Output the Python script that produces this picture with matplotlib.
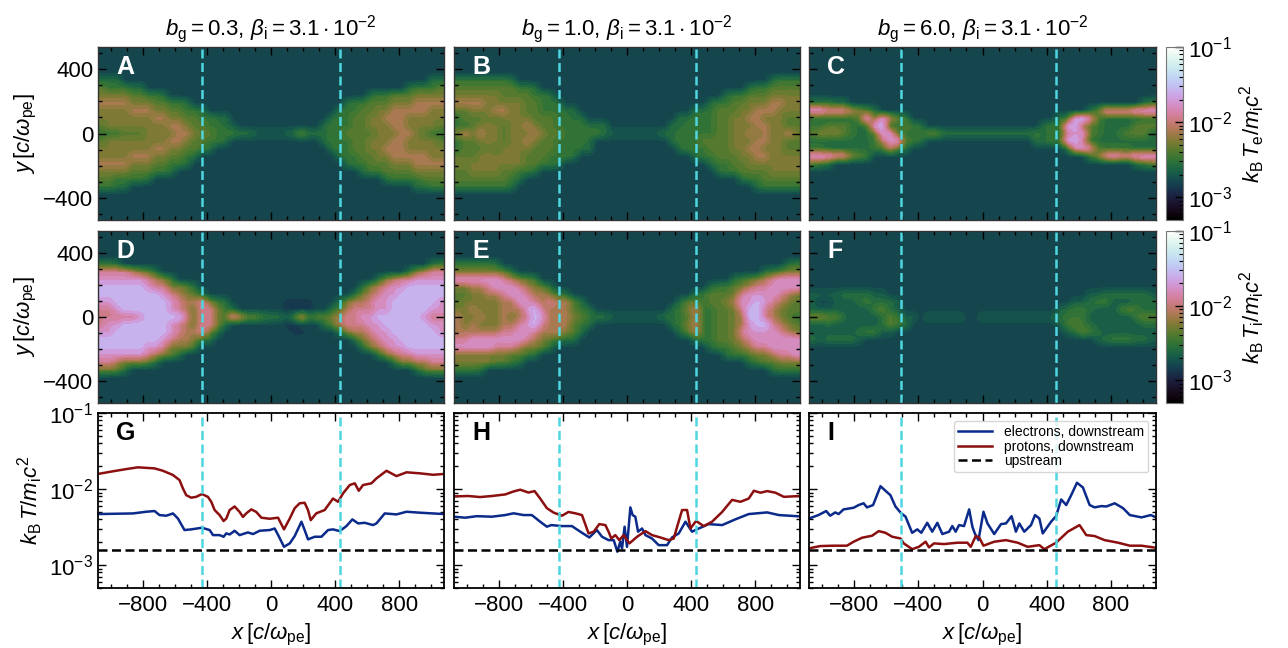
import numpy as np
import matplotlib
matplotlib.use('Agg')
import matplotlib.pyplot as plt
from matplotlib.colors import LogNorm
from matplotlib.cm import ScalarMappable
from matplotlib.ticker import MultipleLocator, LogLocator, NullFormatter

plt.rcParams['font.family'] = ['Liberation Sans', 'DejaVu Sans']
plt.rcParams['mathtext.fontset'] = 'custom'
plt.rcParams['mathtext.rm'] = 'Liberation Sans'
plt.rcParams['mathtext.it'] = 'Liberation Sans:italic'
plt.rcParams['mathtext.bf'] = 'Liberation Sans:bold'

# temperature classes used in the coarse maps below, in units of 1e-3
CODES = 'a0123456789'
CODE_T = [1.4, 1.6, 2.1, 2.7, 3.3, 4.2, 5.3, 7.6, 11.5, 17.0, 26.0]
# isotherms between which the maps are filled
BANDS = [1.3, 1.5, 1.72, 2.0, 2.4, 2.9, 3.4, 3.9, 4.5, 5.2, 6.0, 7.0, 8.3, 10, 12, 14.5, 18, 23, 30]

E = "00000 00000 00000 00000 00000 00000 00000 00000 00000"

MAP_A = [E, E, E, E,
    "22200 00000 00000 00000 00000 00000 00000 00000 00022",
    "43332 20000 00000 00000 00000 00000 00000 00000 23334",
    "55554 43320 00000 00000 00000 00000 00000 23344 45555",
    "66665 55443 32000 00000 00000 00000 00233 44455 56666",
    "55556 66554 43320 00000 00000 00000 02334 45566 66655",
    "55555 55665 54433 22000 00000 00000 23344 55666 55555",
    "45555 55556 65443 32100 00000 00002 33344 55566 55554",
    "33344 45555 66544 33322 11111 24222 33444 45556 65433",
    "45555 55556 65443 32000 00000 00002 33344 55566 55554",
    "55555 55665 54432 00000 00000 00000 23344 55666 55555",
    "55556 66554 43200 00000 00000 00000 02334 45566 66655",
    "66665 55443 32000 00000 00000 00000 00233 44455 56666",
    "55554 44332 00000 00000 00000 00000 00002 33444 45555",
    "44333 32000 00000 00000 00000 00000 00000 00233 33444",
    "33220 00000 00000 00000 00000 00000 00000 00000 02233",
    E, E, E, E]

MAP_B = [E, E, E, E,
    "33333 33200 00000 00000 00000 00000 00000 00000 02333",
    "44444 44433 20000 00000 00000 00000 00000 00023 34444",
    "55555 54444 33200 00000 00000 00000 00000 23344 45555",
    "66665 55554 43320 00000 00000 00000 00023 34455 56655",
    "44555 66554 43332 20000 00000 00000 02234 44556 66555",
    "34445 45555 44433 22000 00000 00002 23334 45566 55544",
    "33455 54556 54433 33222 00000 00022 33334 45556 65544",
    "56565 54555 65443 33332 11111 11223 33334 45565 65565",
    "34455 54556 54433 33200 00000 00023 33444 45556 65544",
    "34445 45555 44433 32200 00000 00002 33344 45566 55544",
    "44455 55554 44333 20000 00000 00000 02334 44556 65555",
    "55555 55554 43320 00000 00000 00000 00023 34455 55555",
    "44555 54433 20000 00000 00000 00000 00002 33444 45555",
    "44444 44320 00000 00000 00000 00000 00000 00233 44444",
    "33333 33200 00000 00000 00000 00000 00000 00002 33333",
    E, E, E, E]

MAP_C = [E, E, E, E, E, E, E,
    "33322 00000 00000 00000 00000 00000 00000 00000 00023",
    "88777 65420 00000 00000 00000 00000 00000 02477 77888",
    "22222 34858 64300 00000 00000 00000 00238 97422 22233",
    "33444 32389 33432 00000 00000 00000 23389 64322 22444",
    "45554 32248 84323 44222 22222 22223 23278 84322 34442",
    "22222 22236 88432 00000 00000 00002 23389 73222 22222",
    "33222 22233 64200 00000 00000 00000 00027 87433 33222",
    "88877 54300 00000 00000 00000 00000 00000 03578 77888",
    "43200 00000 00000 00000 00000 00000 00000 00000 00234",
    E, E, E, E, E, E, E]

MAP_D = [E, E, E, E,
    "33200 00000 00000 00000 00000 00000 00000 00000 00023",
    "77776 54200 00000 00000 00000 00000 00000 00000 25677",
    "88888 87653 00000 00000 00000 00000 00000 02567 78888",
    "99999 98775 54200 00000 00000 00000 00002 56788 99999",
    "99999 99987 65420 00000 00000 00000 00025 67889 99999",
    "88999 99998 76675 32000 0000a aaa00 02566 78899 99998",
    "77899 99998 76577 53200 0000a aaa00 24677 78899 99988",
    "77777 89999 97577 54764 43221 36344 56778 89999 99877",
    "78899 99998 76577 52000 0000a a0002 46777 88999 99988",
    "88999 99998 76675 20000 00000 aa000 02566 78899 99998",
    "99999 99987 66532 00000 00000 00000 00025 67889 99999",
    "99999 98875 55300 00000 00000 00000 00002 56788 99999",
    "88888 87654 20000 00000 00000 00000 00000 02567 78888",
    "77655 54200 00000 00000 00000 00000 00000 00025 56677",
    "55420 00000 00000 00000 00000 00000 00000 00000 02455",
    E, E, E, E]

MAP_E = [E, E, E, E,
    "33333 20000 00000 00000 00000 00000 00000 00000 00023",
    "55555 54200 00000 00000 00000 00000 00000 00000 23455",
    "88888 87654 30000 00000 00000 00000 00000 02345 67888",
    "55667 88876 54200 00000 00000 00000 00023 34567 78888",
    "44556 67887 66532 00000 00000 00000 02344 45788 88765",
    "45555 56688 76766 42000 00000 00002 44344 56889 87654",
    "55655 56668 97666 43200 00000 00023 56334 45799 76544",
    "65565 56567 98666 54322 11111 11223 46334 45699 76543",
    "65655 56678 97666 43200 00000 00023 56334 45689 97654",
    "66666 67788 76665 42000 00000 00002 46334 45788 88765",
    "77888 88887 65432 20000 00000 00000 02334 45678 88888",
    "88888 77765 54200 00000 00000 00000 00023 34567 78888",
    "55555 55443 20000 00000 00000 00000 00000 23345 56778",
    "55555 44320 00000 00000 00000 00000 00000 00023 44555",
    "33320 00000 00000 00000 00000 00000 00000 00000 02333",
    E, E, E, E]

MAP_F = [E, E, E, E, E, E, E, E,
    "11112 22211 00000 00000 00000 00000 00000 01122 22221",
    "10011 12322 21000 00000 00000 00000 00001 12331 11222",
    "11111 11134 21000 00000 00000 00000 00123 32111 34322",
    "55442 11112 43110 11111 00111 11111 11233 31111 11344",
    "11211 11112 43200 00000 00000 00000 00134 32111 11122",
    "11111 12331 10000 00000 00000 00000 00012 43211 11111",
    "21222 21000 00000 00000 00000 00000 00000 00123 33221",
    E, E, E, E, E, E, E, E]

# panel G, temperatures in units of 1e-3
g_xp = [-1080,-988,-904,-831,-727,-675,-612,-571,-550,-529,-498,-467,-431,-394,-373,-352,-321,-296,-279,-258,-227,-196,-175,-154,-123,-92,-60,-8,44,81,117,148,179,210,231,248,283,335,387,419,450,492,523,548,575,627,658,721,783,846,929,1012,1080]
g_tp = [15.8,17.1,18.3,19.3,18.7,17.4,15.3,13.1,10.2,8.3,7.7,7.9,8.6,7.9,6.8,5.3,4.55,3.8,4.1,5.3,5.9,5.0,4.3,4.8,5.4,5.0,4.2,4.07,4.2,2.95,4.1,5.6,6.5,6.6,5.3,3.9,4.8,5.3,7.5,6.8,8.8,11.3,11.9,9.5,11.3,11.9,13.8,17.4,14.8,16.6,16.1,15.4,15.8]
g_xe = [-1080,-862,-779,-727,-696,-654,-612,-581,-540,-498,-431,-383,-362,-321,-296,-279,-258,-227,-196,-144,-112,-71,-8,23,50,81,117,148,190,210,231,273,315,356,387,429,471,508,544,585,637,658,710,783,846,929,1080]
g_te = [4.69,4.78,5.03,5.14,4.55,4.46,4.78,4.1,2.89,2.95,3.1,2.89,2.48,2.48,2.36,2.61,2.53,2.83,2.48,2.69,2.56,2.83,2.89,3.03,2.36,1.74,1.93,2.41,3.72,2.89,2.18,2.36,2.36,2.89,2.95,2.8,3.26,3.99,3.53,3.6,3.36,3.53,4.78,4.64,5.03,4.89,4.69]

# panel H
h_xp = [-1080,-990,-917,-844,-760,-708,-667,-615,-577,-542,-500,-458,-406,-365,-323,-281,-240,-208,-173,-135,-115,-98,-73,-48,-21,15,63,115,156,208,260,292,313,344,375,396,431,479,531,594,656,708,760,792,833,875,927,979,1080]
h_tp = [8.0,8.1,7.85,8.1,8.5,9.3,9.8,9.0,9.4,7.5,5.6,4.9,4.46,5.0,4.8,4.55,2.61,2.75,3.46,3.36,2.75,2.24,2.48,2.13,2.48,1.93,2.36,2.8,2.48,2.31,2.13,2.24,3.2,5.3,5.3,3.03,3.8,3.26,3.72,5.0,7.2,6.8,7.5,9.5,8.95,9.4,8.95,7.9,8.1]
h_xe = [-1080,-1010,-938,-844,-760,-708,-646,-594,-542,-500,-473,-406,-344,-281,-235,-188,-156,-115,-83,-60,-42,-31,-15,0,21,35,52,69,94,115,156,198,250,281,323,365,406,448,510,594,677,760,875,948,1080]
h_te = [4.33,4.2,4.4,4.33,4.55,4.8,4.55,4.55,3.72,3.2,3.36,3.26,3.26,2.66,2.31,2.89,2.36,2.13,2.13,1.5,2.03,1.66,3.2,1.74,5.74,4.55,4.33,2.75,3.03,2.48,2.24,1.83,1.83,2.31,2.61,3.72,2.75,3.03,3.46,3.36,4.0,4.69,4.93,4.55,4.37]

# panel I
i_xe = [-1080,-1021,-973,-948,-917,-896,-865,-802,-771,-740,-719,-681,-635,-604,-573,-542,-510,-479,-438,-406,-381,-344,-313,-281,-250,-208,-188,-167,-146,-115,-83,-63,-48,-25,6,31,73,115,146,181,208,229,260,302,327,354,375,427,458,490,521,552,588,625,667,698,740,771,823,875,917,990,1048,1080]
i_te = [4.1,4.55,5.14,4.46,4.93,4.69,5.4,5.68,6.16,6.5,5.74,6.16,10.9,9.5,8.3,5.9,4.9,4.33,2.66,2.95,2.66,3.6,2.75,3.6,2.56,2.75,3.26,2.75,3.36,3.26,5.4,3.2,2.61,2.13,5.03,3.53,2.56,3.46,3.53,4.4,2.75,3.53,2.75,3.36,4.55,4.1,2.61,3.72,4.4,7.3,6.16,8.3,12.1,10.5,6.16,5.74,5.97,5.9,6.5,5.6,4.55,4.24,4.55,4.24]
i_xp = [-1080,-1010,-927,-844,-802,-750,-688,-646,-604,-562,-510,-490,-438,-396,-354,-333,-302,-240,-156,-94,-73,-42,-21,6,73,146,219,281,354,385,458,531,604,646,698,760,844,917,990,1080]
i_tp = [1.66,1.78,1.8,1.8,2.03,2.29,2.43,2.8,2.66,2.36,2.24,1.93,1.62,1.74,2.03,1.71,1.93,1.89,1.97,1.97,1.74,2.41,2.31,1.8,2.03,2.13,1.97,1.74,1.83,1.62,1.97,2.75,3.36,2.48,2.41,2.13,1.97,1.8,1.8,1.69]

upstream = 1.6
xb_abc = [(-431, 430), (-427, 431), (-508, 456)]
titles = [r'$b_{\mathrm{g}} = 0.3,\, \beta_{\mathrm{i}} = 3.1 \cdot 10^{-2}$',
          r'$b_{\mathrm{g}} = 1.0,\, \beta_{\mathrm{i}} = 3.1 \cdot 10^{-2}$',
          r'$b_{\mathrm{g}} = 6.0,\, \beta_{\mathrm{i}} = 3.1 \cdot 10^{-2}$']

W, H = 1288, 648
COLS = [(98, 444), (454, 800), (809, 1156)]
ROWS = [(47, 220), (231, 403), (413, 588)]
VMIN, VMAX = 5e-4, 1e-1
FS = 16


def add_px_axes(fig, x0, x1, y0, y1):
    return fig.add_axes([x0 / W, 1 - y1 / H, (x1 - x0) / W, (y1 - y0) / H])


def decode(rows):
    out = []
    for r in rows:
        out.append([CODE_T[CODES.index(c)] for c in r.replace(' ', '')])
    return np.array(out) * 1e-3


def soften(a, n=4, k=5):
    # repeat the cells and box-average so the isotherms come out round
    a = np.repeat(np.repeat(a, n, axis=0), n, axis=1)
    kernel = np.ones(k) / k
    for axis in (0, 1):
        pad = [(k, k) if ax == axis else (0, 0) for ax in (0, 1)]
        a = np.pad(a, pad, mode='edge')
        a = np.apply_along_axis(lambda v: np.convolve(v, kernel, mode='same'), axis, a)
        a = a[k:-k, :] if axis == 0 else a[:, k:-k]
    return a


def style_axes(ax, log=False):
    ax.set_xlim(-1080, 1080)
    ax.xaxis.set_major_locator(MultipleLocator(400))
    ax.xaxis.set_minor_locator(MultipleLocator(100))
    if not log:
        ax.set_ylim(-540, 540)
        ax.yaxis.set_major_locator(MultipleLocator(400))
        ax.yaxis.set_minor_locator(MultipleLocator(100))
    ax.tick_params(which='both', direction='in', top=True, right=True, labelsize=FS)
    ax.tick_params(which='major', length=6, width=1)
    ax.tick_params(which='minor', length=3, width=1)


fig = plt.figure(figsize=(W / 100, H / 100), dpi=100)

maps = [[MAP_A, MAP_B, MAP_C], [MAP_D, MAP_E, MAP_F]]
names = [['A', 'B', 'C'], ['D', 'E', 'F']]
for i in range(2):
    for j in range(3):
        ax = add_px_axes(fig, COLS[j][0], COLS[j][1], ROWS[i][0], ROWS[i][1])
        logT = soften(np.log10(decode(maps[i][j])[::-1]))
        ny, nx = logT.shape
        # cell centres, with the outer cells carried to the frame
        xc = np.r_[-1080, -1080 + (np.arange(nx) + 0.5) * 2160 / nx, 1080]
        yc = np.r_[-540, -540 + (np.arange(ny) + 0.5) * 1080 / ny, 540]
        ax.contourf(xc, yc, np.pad(logT, 1, mode='edge'),
                    levels=np.log10(np.array(BANDS) * 1e-3),
                    cmap='cubehelix', vmin=np.log10(VMIN), vmax=np.log10(VMAX),
                    antialiased=False)
        style_axes(ax)
        for s in ax.spines.values():
            s.set_linewidth(1)
            s.set_color('#333333')
        for xb in xb_abc[j]:
            ax.axvline(xb, color='#4fd6e0', lw=1.8, dashes=(3.6, 1.8))
        ax.set_xticklabels([])
        if j == 0:
            ax.set_yticks([-400, 0, 400])
            ax.set_yticklabels(['\u2212400', '0', '400'])
            ax.set_ylabel(r'$y\,[c/\omega_{\mathrm{pe}}]$', fontsize=FS, labelpad=3)
        else:
            ax.set_yticklabels([])
        if i == 0:
            ax.set_title(titles[j], fontsize=FS, pad=9)
        ax.text(0.052, 0.885, names[i][j], transform=ax.transAxes, color='white',
                fontsize=18, fontweight='bold', ha='left', va='center')

# colour bars
labels = [r'$k_{\mathrm{B}}\,T_{\mathrm{e}}/m_{\mathrm{i}}c^2$',
          r'$k_{\mathrm{B}}\,T_{\mathrm{i}}/m_{\mathrm{i}}c^2$']
for i in range(2):
    cax = add_px_axes(fig, 1166, 1183, ROWS[i][0], ROWS[i][1])
    sm = ScalarMappable(norm=LogNorm(VMIN, VMAX), cmap='cubehelix')
    cb = fig.colorbar(sm, cax=cax)
    cb.ax.tick_params(which='both', direction='in', labelsize=FS)
    cb.ax.tick_params(which='major', length=6, width=1)
    cb.ax.tick_params(which='minor', length=3, width=0.8)
    cb.outline.set_edgecolor('#777777')
    cb.set_label(labels[i], fontsize=FS, labelpad=4)

# temperature profiles
profiles = [(g_xe, g_te, g_xp, g_tp), (h_xe, h_te, h_xp, h_tp), (i_xe, i_te, i_xp, i_tp)]
for j, name in enumerate(['G', 'H', 'I']):
    ax = add_px_axes(fig, COLS[j][0], COLS[j][1], ROWS[2][0], ROWS[2][1])
    xe, te, xp, tp = profiles[j]
    ax.plot(xe, np.array(te) * 1e-3, color='#0b2a8a', lw=1.8, label='electrons, downstream')
    ax.plot(xp, np.array(tp) * 1e-3, color='#8b0f0f', lw=1.8, label='protons, downstream')
    ax.axhline(upstream * 1e-3, color='k', lw=1.8, dashes=(3.6, 1.8), label='upstream')
    for xb in xb_abc[j]:
        ax.axvline(xb, color='#4fd6e0', lw=1.8, dashes=(3.6, 1.8))
    ax.set_yscale('log')
    ax.set_ylim(VMIN, VMAX)
    style_axes(ax, log=True)
    ax.yaxis.set_major_locator(LogLocator(base=10, numticks=6))
    ax.yaxis.set_minor_locator(LogLocator(base=10, subs=np.arange(2, 10), numticks=12))
    ax.yaxis.set_minor_formatter(NullFormatter())
    for s in ax.spines.values():
        s.set_linewidth(1.3)
    ax.set_xticks([-800, -400, 0, 400, 800])
    ax.set_xticklabels(['\u2212800', '\u2212400', '0', '400', '800'])
    ax.tick_params(axis='x', pad=5)
    ax.set_xlabel(r'$x\,[c/\omega_{\mathrm{pe}}]$', fontsize=FS, labelpad=4)
    if j == 0:
        ax.set_ylabel(r'$k_{\mathrm{B}}\,T/m_{\mathrm{i}}c^2$', fontsize=FS, labelpad=3)
    else:
        ax.set_yticklabels([])
    ax.text(0.052, 0.885, name, transform=ax.transAxes, color='k',
            fontsize=18, fontweight='bold', ha='left', va='center')
    if j == 2:
        ax.legend(loc='upper right', fontsize=10, labelspacing=0.05, handlelength=2.4,
                  borderpad=0.3, handletextpad=0.9, borderaxespad=0.55, framealpha=0.8)

fig.savefig('out.png', dpi=100)
